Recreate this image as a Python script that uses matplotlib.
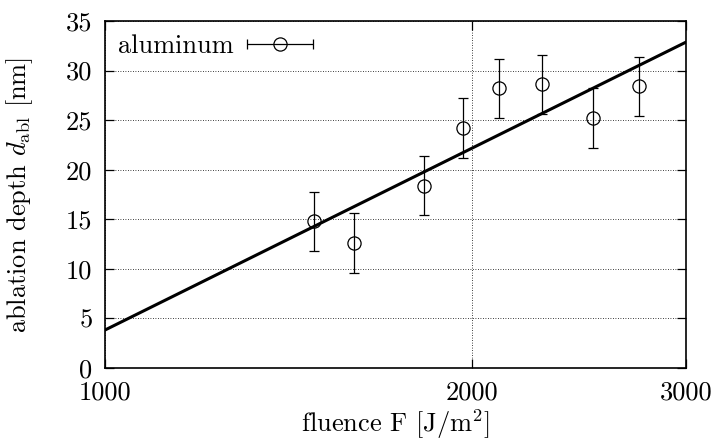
import matplotlib
matplotlib.use("Agg")
import matplotlib.pyplot as plt
from matplotlib.legend_handler import HandlerErrorbar
from matplotlib.ticker import FixedLocator, FixedFormatter, NullLocator
import numpy as np

# measured ablation depth vs. fluence (aluminum)
fluence = [1484, 1601, 1828, 1968, 2107, 2285, 2516, 2745]
depth = [14.8, 12.6, 18.4, 24.2, 28.2, 28.6, 25.2, 28.4]
depth_err = [3.0, 3.0, 3.0, 3.0, 3.0, 3.0, 3.0, 3.0]

# logarithmic fit d = (1/alpha) ln(F/F_th), end points on the plotted range
fit_fluence = [1000, 3000]
fit_depth = [3.83, 32.87]

x_ticks = [1000, 2000, 3000]
y_ticks = [0, 5, 10, 15, 20, 25, 30, 35]

plt.rcParams["font.family"] = ["cmr10", "DejaVu Serif"]
plt.rcParams["mathtext.fontset"] = "cm"
plt.rcParams["axes.formatter.use_mathtext"] = True
plt.rcParams["font.size"] = 19

fig = plt.figure(figsize=(7.17, 4.41), dpi=100)
ax = fig.add_axes([0.1464, 0.1655, 0.9568 - 0.1464, 0.9524 - 0.1655])

ax.set_xscale("log")
ax.set_xlim(1000, 3000)
ax.set_ylim(0, 35)

ax.plot(fit_fluence, fit_depth, color="black", lw=2.2, zorder=3)
ax.errorbar(fluence, depth, yerr=depth_err, fmt="o", ms=9.5, mfc="none",
            mec="black", mew=0.9, ecolor="black", elinewidth=0.9,
            capsize=3.3, capthick=0.9, zorder=4)

# key entry drawn gnuplot-style: horizontal bar with caps around the symbol
proxy = ax.errorbar([np.nan], [np.nan], xerr=[1.0], fmt="o", ms=9.5,
                    mfc="none", mec="black", mew=0.9, ecolor="black",
                    elinewidth=0.9, capsize=3.3, capthick=0.9,
                    label="aluminum")
ax.legend(handles=[proxy], loc="upper left", frameon=False, markerfirst=False,
          handlelength=2.5, handletextpad=0.5, borderaxespad=0.2,
          borderpad=0.3, numpoints=1,
          handler_map={type(proxy): HandlerErrorbar(xerr_size=1.25)})

ax.xaxis.set_major_locator(FixedLocator(x_ticks))
ax.xaxis.set_major_formatter(FixedFormatter([str(v) for v in x_ticks]))
ax.xaxis.set_minor_locator(NullLocator())
ax.set_yticks(y_ticks)
ax.set_yticklabels([str(v) for v in y_ticks])

ax.tick_params(which="major", direction="in", length=6.5, width=0.9,
               top=True, right=True, pad=9)
ax.grid(True, which="major", color="black", linestyle=(0, (1, 2)), lw=0.6)
for spine in ax.spines.values():
    spine.set_linewidth(1.2)

ax.set_xlabel(r"fluence F [J/m$^2$]", labelpad=2)
ax.set_ylabel(r"ablation depth $d_{\mathrm{abl}}$ [nm]", labelpad=22)

fig.savefig("out.png", dpi=100)
